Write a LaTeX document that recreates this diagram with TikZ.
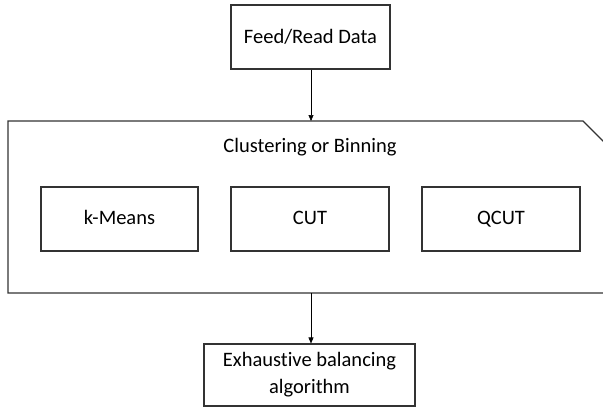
\documentclass[tikz,border=0pt]{standalone}
\usepackage{fontspec}
\setmainfont[Ligatures={NoCommon}]{Carlito}
\usetikzlibrary{arrows.meta}
\begin{document}
\begin{tikzpicture}[x=1pt,y=-1pt,
  box/.style={draw=black!80,line width=1.1pt,rectangle,inner sep=0pt,align=center,
    font=\fontsize{20.5}{27}\selectfont},
  conn/.style={draw=black,line width=0.6pt,-{Triangle[length=6pt,width=5pt]}}]
\useasboundingbox (0,0) rectangle (603,408);
\clip (0,0) rectangle (603,408);
\fill[white] (0,0) rectangle (603,408);
% outer cut-corner container
\coordinate (btl) at (8,121);
\coordinate (bcut) at (583,121);
\coordinate (bdiag) at (640,178);
\coordinate (bbr) at (640,293);
\coordinate (bbl) at (8,293);
\draw[black!80,line width=1.1pt] (bdiag) -- (bcut) -- (btl) -- (bbl) -- (bbr);
\node[font=\fontsize{20.5}{24}\selectfont] (title) at (310,147) {Clustering or Binning};
\node[box,minimum width=159pt,minimum height=64pt] (feed) at (310.5,37) {Feed/Read Data};
\node[box,minimum width=157pt,minimum height=64pt,text height=14pt,text depth=4pt] (km) at (119.5,219) {k-Means};
\node[box,minimum width=158pt,minimum height=64pt,text height=14pt,text depth=4pt] (cut) at (310,219) {CUT};
\node[box,minimum width=158pt,minimum height=64pt,text height=14pt,text depth=4pt] (qcut) at (501,219) {QCUT};
\node[box,minimum width=211pt,minimum height=62pt] (exh) at (309.5,375) {Exhaustive balancing\\algorithm};
\coordinate (intop) at (311,121);
\coordinate (outbot) at (311,293);
\draw[conn] (feed.south -| intop) -- (intop);
\draw[conn] (outbot) -- (exh.north -| outbot);
\end{tikzpicture}
\end{document}
